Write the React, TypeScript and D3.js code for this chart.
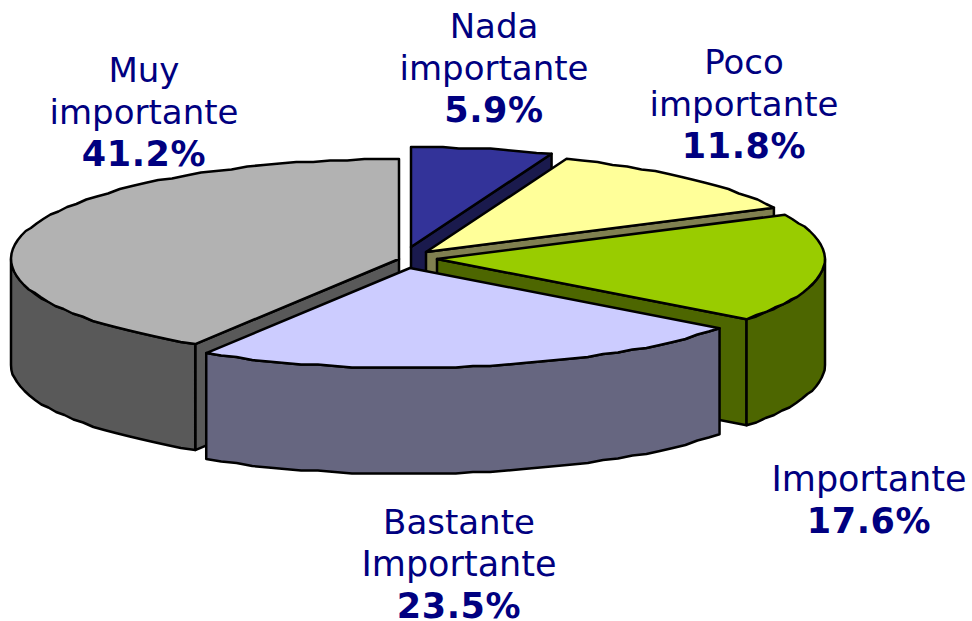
import React from "react";
import * as d3 from "d3";

const categories = ["Nada importante", "Poco importante", "Importante", "Bastante Importante", "Muy importante"];
const values = [5.9, 11.8, 17.6, 23.5, 41.2];
const valueLabels = ["5.9%", "11.8%", "17.6%", "23.5%", "41.2%"];
const topColors = ["#333399", "#FFFF99", "#99CC00", "#CCCCFF", "#B2B2B2"];
const sideColors = ["#1A1A4D", "#808050", "#4D6600", "#666680", "#595959"];
const apexX = [411, 426, 437, 410, 399];
const apexY = [247, 252, 259, 268, 259];
const labelLines = [["Nada", "importante"], ["Poco", "importante"], ["Importante"], ["Bastante", "Importante"], ["Muy", "importante"]];
const labelX = [494, 744, 869, 459, 144];
const labelY = [38, 74, 491, 534, 82];
const drawOrder = [0, 1, 2, 4, 3];

const RX = 388;
const RY = 100;
const DEPTH = 106;
const W = 972;
const H = 621;
const LINE = 42;
const FONT = "'DejaVu Sans', Verdana, sans-serif";
const NAVY = "#000080";
const GRID = 1.5;

const arcs = d3.pie<number>().sort(null).startAngle(0).endAngle(2 * Math.PI)(values);

function rimPoints(i: number, a0: number, a1: number, dy = 0): [number, number][] {
  const n = Math.max(2, Math.ceil(Math.abs(a1 - a0) / 0.045));
  const t = d3.scaleLinear().domain([0, n]).range([a0, a1]);
  return d3.range(n + 1).map((k) => {
    const a = t(k);
    const y = apexY[i] - RY * Math.cos(a);
    const snapped = k === 0 || k === n ? y : Math.round(y / GRID) * GRID;
    return [apexX[i] + RX * Math.sin(a), snapped + dy] as [number, number];
  });
}

const line = d3.line();

function Slice({ i }: { i: number }) {
  const { startAngle: a0, endAngle: a1 } = arcs[i];
  const apex: [number, number] = [apexX[i], apexY[i]];
  const top = [apex, ...rimPoints(i, a0, a1)];
  const front0 = Math.max(a0, Math.PI / 2);
  const front1 = Math.min(a1, (3 * Math.PI) / 2);
  const hasRim = front1 > front0;
  const rim = hasRim
    ? [...rimPoints(i, front0, front1), ...rimPoints(i, front1, front0, DEPTH)]
    : null;
  const faces: [number, number][][] = [];
  if (a1 < Math.PI) {
    const p = rimPoints(i, a1, a1 + 0.001)[0];
    faces.push([apex, p, [p[0], p[1] + DEPTH], [apex[0], apex[1] + DEPTH]]);
  }
  if (a0 > Math.PI && a1 > Math.PI * 1.5) {
    const p = rimPoints(i, a0, a0 + 0.001)[0];
    faces.push([apex, p, [p[0], p[1] + DEPTH], [apex[0], apex[1] + DEPTH]]);
  }
  const stroke = { stroke: "#000", strokeWidth: 2.5, strokeLinejoin: "round" as const };
  return (
    <g>
      {faces.map((f, k) => (
        <path key={k} d={line(f) + "Z"} fill={sideColors[i]} {...stroke} />
      ))}
      {rim && <path d={line(rim) + "Z"} fill={sideColors[i]} {...stroke} />}
      <path d={line(top) + "Z"} fill={topColors[i]} {...stroke} />
    </g>
  );
}

export default function App() {
  return (
    <svg
      width={W}
      height={H}
      viewBox={`0 0 ${W} ${H}`}
      style={{ position: "absolute", left: 0, top: 0, background: "#fff" }}
    >
      {drawOrder.map((i) => (
        <Slice key={categories[i]} i={i} />
      ))}
      {categories.map((c, i) => (
        <text key={c} x={labelX[i]} y={labelY[i]} textAnchor="middle" fontFamily={FONT} fontSize={34} fill={NAVY}>
          {labelLines[i].map((l, k) => (
            <tspan key={k} x={labelX[i]} y={labelY[i] + k * LINE} fontSize={l.startsWith("I") ? 35 : 34}>
              {l}
            </tspan>
          ))}
          <tspan
            x={labelX[i]}
            y={labelY[i] + labelLines[i].length * LINE}
            fontWeight="bold"
            fontSize={35}
            letterSpacing={0.6}
          >
            {valueLabels[i]}
          </tspan>
        </text>
      ))}
    </svg>
  );
}
